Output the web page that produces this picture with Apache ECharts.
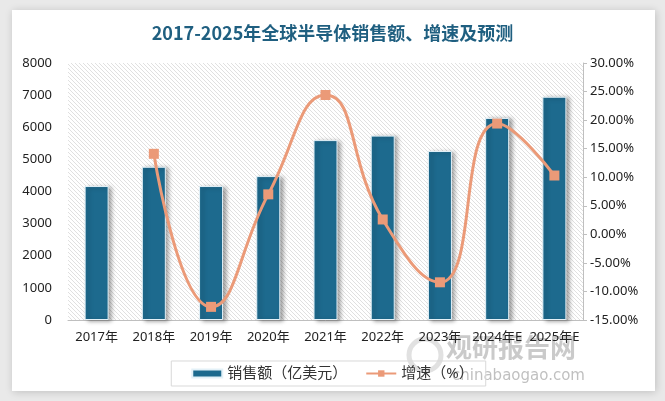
<!DOCTYPE html>
<html><head><meta charset="utf-8">
<script src="https://cdn.jsdelivr.net/npm/echarts@6/dist/echarts.min.js"></script>
<style>html,body{margin:0;padding:0;background:#e9e9e9;}#c{width:665px;height:401px;}</style>
</head><body><div id="c"></div>
<script>
const categories = ['2017年','2018年','2019年','2020年','2021年','2022年','2023年','2024年E','2025年E'];
const sales = [4170, 4770, 4170, 4480, 5600, 5740, 5260, 6290, 6950];
const growth = [null, 14.1, -12.7, 7.0, 24.4, 2.6, -8.4, 19.4, 10.3];

// hatch pattern
const pc = document.createElement('canvas');
pc.width = 4; pc.height = 4;
const g = pc.getContext('2d');
g.fillStyle = '#ffffff'; g.fillRect(0,0,4,4);
g.strokeStyle = '#e0e0e0'; g.lineWidth = 1;
g.beginPath();
g.moveTo(0,0); g.lineTo(4,4);
g.moveTo(-2,2); g.lineTo(2,6);
g.moveTo(2,-2); g.lineTo(6,2);
g.stroke();

const chart = echarts.init(document.getElementById('c'), null, {renderer:'canvas'});
const font = '"Noto Sans", "Noto Sans CJK SC", sans-serif';
chart.setOption({
  backgroundColor: '#e9e9e9',
  animation: false,
  textStyle: {fontFamily: font},
  graphic: [
    {type:'rect', z:-10, shape:{x:12, y:10, width:643, height:381},
     style:{fill:'#ffffff', shadowBlur:8, shadowColor:'rgba(0,0,0,0.18)', shadowOffsetX:1, shadowOffsetY:1}},
    {type:'text', z:-5, left:446, top:334, style:{text:'观研报告网', fill:'rgba(150,150,150,0.5)', font:'bold 26px "Noto Sans CJK SC"'}},
    {type:'text', z:-5, left:452, top:369, style:{text:'chinabaogao.com', fill:'rgba(150,150,150,0.6)', font:'15px "DejaVu Sans"'}},
    {type:'circle', z:-6, shape:{cx:425, cy:355, r:16}, style:{fill:'none', stroke:'rgba(180,180,180,0.4)', lineWidth:5}}
  ],
  title: {
    text: '2017-2025年全球半导体销售额、增速及预测',
    left: 'center', top: 19,
    textStyle: {color:'#1f5f80', fontSize:18, fontWeight:'bold', fontFamily:'"Noto Sans CJK SC"'}
  },
  legend: {
    bottom: 15, left: 'center',
    padding: [5, 12, 5, 20],
    borderColor: '#d9d9d9', borderWidth: 1,
    itemGap: 18,
    itemWidth: 30, itemHeight: 8,
    textStyle: {fontSize: 15, color:'#333'},
    data: [
      {name:'销售额（亿美元）', icon:'rect'},
      {name:'增速（%）'}
    ]
  },
  grid: {left:68, right:82, top:63, bottom:81, show:true, borderWidth:0,
         backgroundColor:{image:pc, repeat:'repeat'}},
  xAxis: {
    type:'category', data:categories,
    axisLine:{lineStyle:{color:'#bfbfbf'}},
    axisTick:{show:false},
    axisLabel:{color:'#222', fontSize:13, margin:11, interval:0}
  },
  yAxis: [
    {type:'value', min:0, max:8000, interval:1000,
     axisLine:{show:false}, axisTick:{show:false}, splitLine:{show:false},
     axisLabel:{color:'#222', fontSize:13, margin:16, formatter: v => String(v)}},
    {type:'value', min:-15, max:30, interval:5, position:'right',
     axisLine:{show:true, lineStyle:{color:'#bfbfbf'}},
     axisTick:{show:true, length:4, lineStyle:{color:'#bfbfbf'}},
     splitLine:{show:false},
     axisLabel:{color:'#222', fontSize:13, margin:7, formatter: v => v.toFixed(2)+'%'}}
  ],
  series: [
    {name:'销售额（亿美元）', type:'bar', data:sales, barWidth:24,
     itemStyle:{color:'#1d6a8e', borderColor:'#e3f1f8', borderWidth:1,
       shadowColor:'rgba(0,0,0,0.35)', shadowBlur:4, shadowOffsetX:3, shadowOffsetY:1}},
    {name:'增速（%）', type:'line', yAxisIndex:1, data:growth, smooth:0.5,
     symbol:'rect', symbolSize:10, connectNulls:false,
     lineStyle:{color:'#eb9a78', width:3},
     itemStyle:{color:'#eb9a78'}}
  ]
});
</script></body></html>
